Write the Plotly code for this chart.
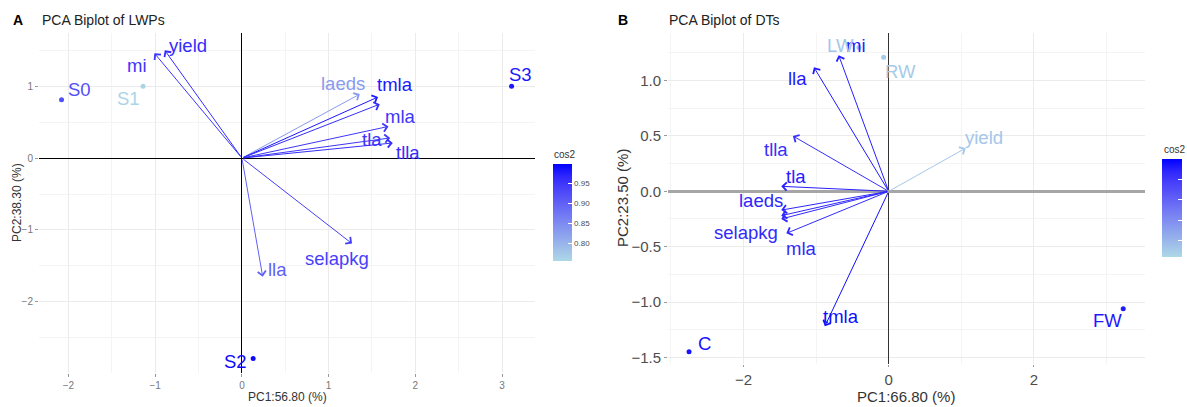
import plotly.graph_objects as go
from plotly.colors import sample_colorscale

# ---------------- Panel A: PCA Biplot of LWPs ----------------
a_ind_names = ["S0", "S1", "S2", "S3"]
a_ind_pc1 = [-2.08, -1.14, 0.13, 3.11]
a_ind_pc2 = [0.81, 1.00, -2.79, 1.00]
a_ind_cos2 = [0.92, 0.76, 0.99, 0.98]

a_var_names = ["yield", "mi", "laeds", "tmla", "", "mla", "tla", "tlla", "lla", "selapkg"]
a_var_pc1 = [-0.89, -1.01, 1.36, 1.57, 1.59, 1.69, 1.71, 1.74, 0.24, 1.27]
a_var_pc2 = [1.50, 1.46, 0.89, 0.85, 0.75, 0.44, 0.28, 0.21, -1.65, -1.19]
a_var_cos2 = [0.96, 0.95, 0.83, 0.98, 0.96, 0.95, 0.95, 0.96, 0.90, 0.94]

a_cos2_ticks = [0.80, 0.85, 0.90, 0.95]

# ---------------- Panel B: PCA Biplot of DTs ----------------
b_ind_names = ["C", "FW", "LW", "RW"]
b_ind_pc1 = [-2.75, 3.23, -0.41, -0.07]
b_ind_pc2 = [-1.45, -1.06, 1.30, 1.21]
b_ind_cos2 = [0.97, 0.96, 0.56, 0.55]

b_var_names = ["mi", "lla", "tlla", "tla", "laeds", "", "selapkg", "mla", "tmla", "yield"]
b_var_pc1 = [-0.69, -1.03, -1.32, -1.48, -1.48, -1.48, -1.48, -1.41, -0.88, 1.06]
b_var_pc2 = [1.23, 1.12, 0.50, 0.045, -0.17, -0.22, -0.25, -0.38, -1.22, 0.39]
b_var_cos2 = [0.95, 0.96, 0.92, 0.95, 0.94, 0.94, 0.93, 0.93, 0.98, 0.56]

b_cos2_ticks = [0.6, 0.7, 0.8, 0.9]

# ---------------- styling ----------------
W, H = 1187, 407
FONT = "Liberation Sans, Arial, Helvetica, sans-serif"
LABEL_SIZE = 18.5
# lightblue -> blue gradient
SCALE = [
    [0.0, "rgb(173,216,230)"], [0.125, "rgb(159,191,234)"], [0.25, "rgb(143,166,237)"],
    [0.375, "rgb(128,141,241)"], [0.5, "rgb(111,116,244)"], [0.625, "rgb(92,90,247)"],
    [0.75, "rgb(72,65,250)"], [0.875, "rgb(46,38,253)"], [1.0, "rgb(0,0,255)"],
]
A_CMIN, A_CMAX = 0.755, 0.998
B_CMIN, B_CMAX = 0.52, 1.0

# label offsets (pixels: dx right, dy up) relative to the mark
a_off = {"S0": (18, 10), "S1": (-15, -12), "S2": (-18, -3), "S3": (9, 12),
         "yield": (23, 5), "mi": (-17, -12), "laeds": (-17, 11), "tmla": (17, 12),
         "mla": (12, 10), "tla": (-18, -2), "tlla": (15, -10), "lla": (15, 7),
         "selapkg": (-15, -15)}
b_off = {"C": (15, 8), "FW": (-16, -12), "LW": (-18, 2), "RW": (17, -14),
         "mi": (17, 10), "lla": (-16, -11), "tlla": (-17, -14), "tla": (15, 10),
         "laeds": (-20, 10), "selapkg": (-35, -14), "mla": (15, -15),
         "tmla": (16, 10), "yield": (18, 11)}


def col(v, lo, hi):
    t = min(max((v - lo) / (hi - lo), 0), 1)
    return sample_colorscale(SCALE, [t])[0]


fig = go.Figure()
annotations = []


def add_panel(xref, yref, caxis, lo, hi, ind_n, ind_x, ind_y, ind_c,
              var_n, var_x, var_y, var_c, offs, fsize):
    # arrows for variables
    for n, x, y, c in zip(var_n, var_x, var_y, var_c):
        cc = col(c, lo, hi)
        annotations.append(dict(x=x, y=y, ax=0, ay=0, xref=xref, yref=yref,
                                axref=xref, ayref=yref, text="", showarrow=True,
                                arrowhead=4, arrowsize=1.6, arrowwidth=1,
                                arrowcolor=cc, standoff=0, startstandoff=0))
        if n:
            dx, dy = offs[n]
            annotations.append(dict(x=x, y=y, xref=xref, yref=yref, text=n,
                                    showarrow=False, xshift=dx, yshift=dy,
                                    font=dict(size=fsize, color=cc, family=FONT)))
    # individuals
    fig.add_trace(go.Scatter(x=ind_x, y=ind_y, mode="markers", xaxis=xref,
                             yaxis=yref, hoverinfo="text", text=ind_n,
                             marker=dict(size=5, color=ind_c, coloraxis=caxis),
                             showlegend=False))
    for n, x, y, c in zip(ind_n, ind_x, ind_y, ind_c):
        dx, dy = offs[n]
        annotations.append(dict(x=x, y=y, xref=xref, yref=yref, text=n,
                                showarrow=False, xshift=dx, yshift=dy,
                                font=dict(size=fsize, color=col(c, lo, hi), family=FONT)))


add_panel("x", "y", "coloraxis", A_CMIN, A_CMAX, a_ind_names, a_ind_pc1, a_ind_pc2,
          a_ind_cos2, a_var_names, a_var_pc1, a_var_pc2, a_var_cos2, a_off, LABEL_SIZE)
add_panel("x2", "y2", "coloraxis2", B_CMIN, B_CMAX, b_ind_names, b_ind_pc1, b_ind_pc2,
          b_ind_cos2, b_var_names, b_var_pc1, b_var_pc2, b_var_cos2, b_off, LABEL_SIZE)


def px(v):
    return v / W


def py(v):
    return (H - v) / H


# titles, axis titles and legend titles
titles = [
    dict(text="<b>A</b>", x=px(11), y=py(19.5), size=14, color="#000", xanchor="left"),
    dict(text="PCA Biplot of LWPs", x=px(40), y=py(19.5), size=14, color="#222", xanchor="left"),
    dict(text="<b>B</b>", x=px(616), y=py(19.5), size=14, color="#000", xanchor="left"),
    dict(text="PCA Biplot of DTs", x=px(667), y=py(19.5), size=14, color="#222", xanchor="left"),
    dict(text="PC1:56.80 (%)", x=px(287), y=py(397), size=12, color="#333", xanchor="center"),
    dict(text="PC1:66.80 (%)", x=px(906), y=py(396), size=15, color="#333", xanchor="center"),
    dict(text="cos2", x=px(552), y=py(154), size=10, color="#333", xanchor="left"),
    dict(text="cos2", x=px(1162), y=py(149), size=10, color="#333", xanchor="left"),
]
for t in titles:
    annotations.append(dict(text=t["text"], x=t["x"], y=t["y"], xref="paper", yref="paper",
                            xanchor=t["xanchor"], yanchor="middle", showarrow=False,
                            font=dict(size=t["size"], color=t["color"], family=FONT)))
annotations.append(dict(text="PC2:38.30 (%)", x=px(17), y=py(203), xref="paper", yref="paper",
                        textangle=-90, showarrow=False, xanchor="center", yanchor="middle",
                        font=dict(size=12, color="#333", family=FONT)))
annotations.append(dict(text="PC2:23.50 (%)", x=px(622), y=py(198), xref="paper", yref="paper",
                        textangle=-90, showarrow=False, xanchor="center", yanchor="middle",
                        font=dict(size=15, color="#333", family=FONT)))

GRID = "#EBEBEB"
MINOR = "#F4F4F4"


def axis(domain, rng, dtick, mdtick, anchor, zc, zw, fsize, fcolor, fmt, tl=3):
    return dict(domain=domain, range=rng, anchor=anchor, dtick=dtick, tick0=0,
                tickformat=fmt, showgrid=True, gridcolor=GRID, gridwidth=1,
                minor=dict(dtick=mdtick, tick0=0, showgrid=True, gridcolor=MINOR, gridwidth=1),
                zeroline=True, zerolinecolor=zc, zerolinewidth=zw, showline=False,
                ticks="outside", ticklen=tl, tickcolor="#999", tickwidth=1,
                tickfont=dict(size=fsize, color=fcolor, family=FONT), fixedrange=True)


fig.update_layout(
    width=W, height=H, margin=dict(l=0, r=0, t=0, b=0, autoexpand=False),
    paper_bgcolor="white", plot_bgcolor="white", showlegend=False,
    font=dict(family=FONT),
    xaxis=axis([px(39), px(535)], [-2.34, 3.38], 1, 0.5, "y", "black", 1, 10, "#777", "d"),
    yaxis=axis([py(373), py(33)], [-2.99, 1.74], 1, 0.5, "x", "black", 1, 10, "#777", "d"),
    xaxis2=axis([px(668), px(1145)], [-3.04, 3.53], 2, 1, "y2", "#333", 1, 15, "#4D4D4D", "d", 2),
    yaxis2=axis([py(364), py(33)], [-1.56, 1.43], 0.5, 0.25, "x2", "#A6A6A6", 3, 15, "#4D4D4D", ".1f"),
    coloraxis=dict(colorscale=SCALE, cmin=A_CMIN, cmax=A_CMAX, colorbar=dict(
        x=px(553), xanchor="left", xpad=0, y=py(212.5), yanchor="middle", ypad=0,
        len=97, lenmode="pixels", thickness=19, outlinewidth=0,
        ticks="inside", ticklen=4, tickcolor="white",
        tickvals=a_cos2_ticks, ticktext=[f"{v:.2f}" for v in a_cos2_ticks],
        tickfont=dict(size=8, color="#4D4D4D", family=FONT))),
    coloraxis2=dict(colorscale=SCALE, cmin=B_CMIN, cmax=B_CMAX, colorbar=dict(
        x=px(1162), xanchor="left", xpad=0, y=py(208), yanchor="middle", ypad=0,
        len=98, lenmode="pixels", thickness=20, outlinewidth=0,
        ticks="inside", ticklen=4, tickcolor="white",
        tickvals=b_cos2_ticks, showticklabels=False)),
    annotations=annotations,
)

fig.write_html("out.html", post_script="document.body.style.margin='0px';",
               config={"displayModeBar": False})
